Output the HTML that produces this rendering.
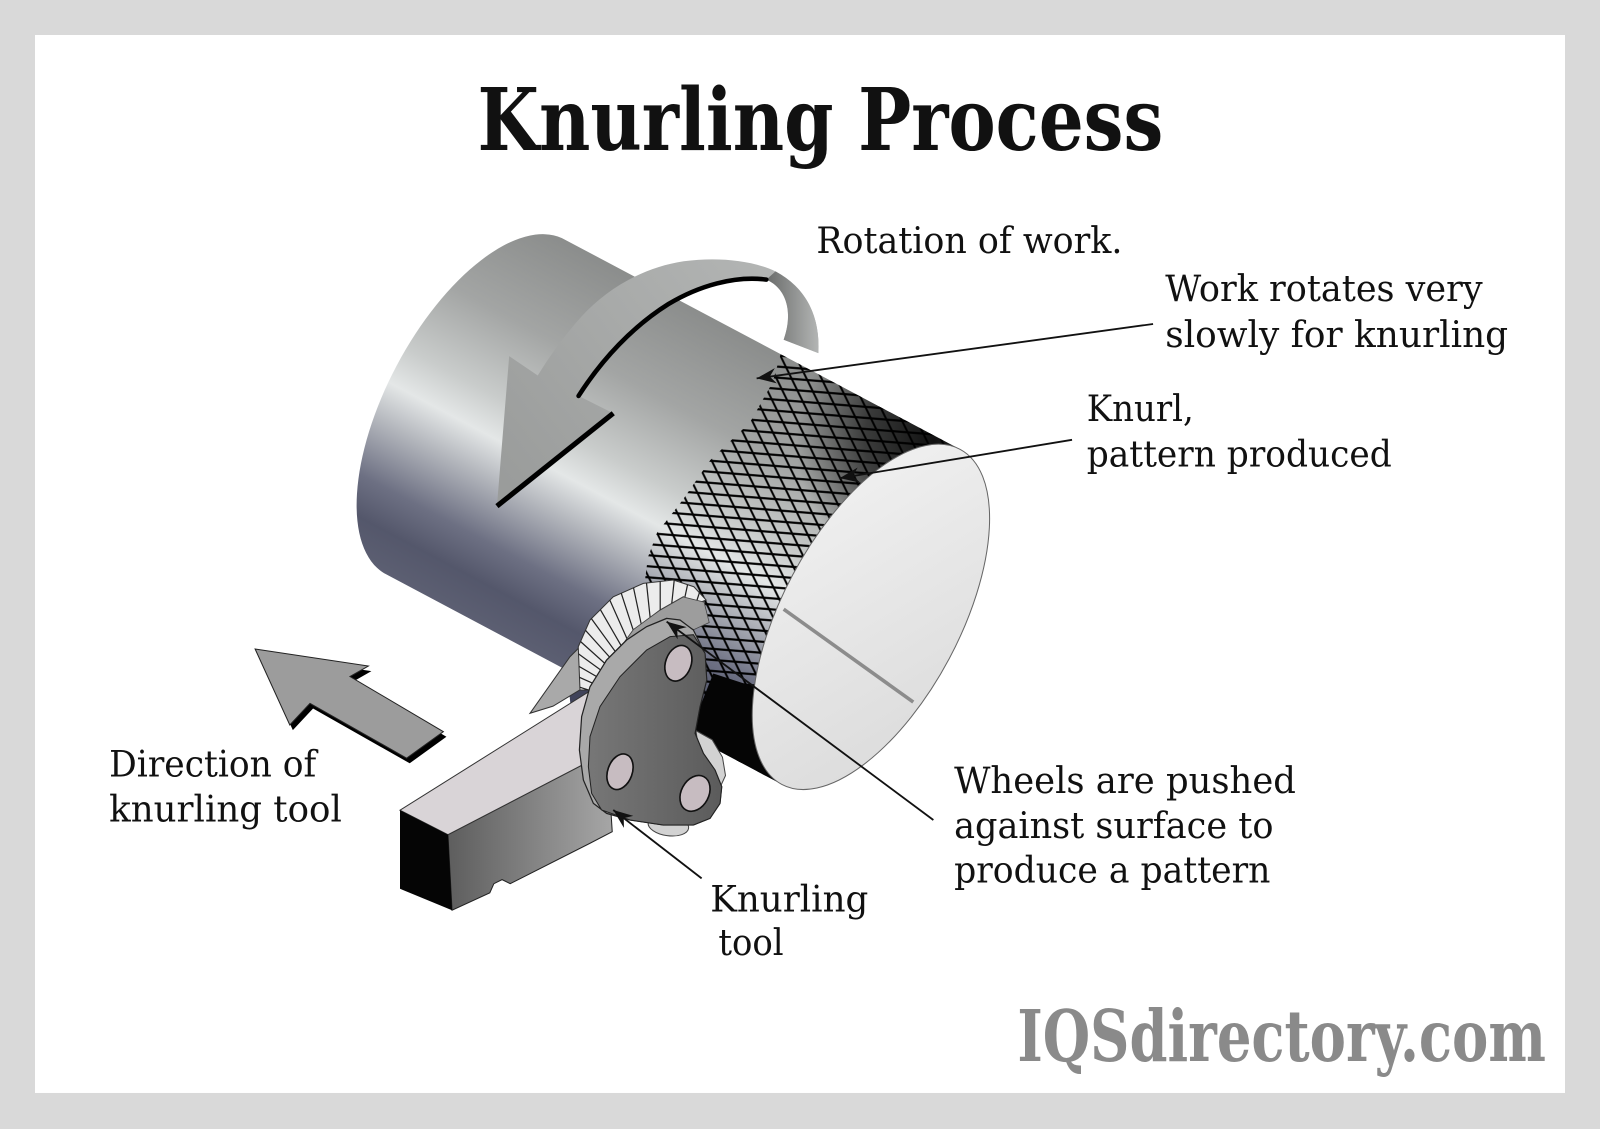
<!DOCTYPE html>
<html><head><meta charset="utf-8"><style>
html,body{margin:0;padding:0;width:1600px;height:1129px;overflow:hidden;background:#d9d9d9}
svg{display:block}
text{font-family:"DejaVu Serif","Liberation Serif",serif;fill:#111}
</style></head><body>
<svg width="1600" height="1129" viewBox="0 0 1568 1106.4" preserveAspectRatio="none" xmlns="http://www.w3.org/2000/svg">
<defs>
  <linearGradient id="bodyg" gradientUnits="userSpaceOnUse" x1="550.7" y1="233.3" x2="376.3" y2="561.7">
    <stop offset="0" stop-color="#8b8d8c"/>
    <stop offset="0.25" stop-color="#a3a5a4"/>
    <stop offset="0.45" stop-color="#c9cccb"/>
    <stop offset="0.55" stop-color="#e4e7e7"/>
    <stop offset="0.65" stop-color="#b4b7bd"/>
    <stop offset="0.8" stop-color="#6d7083"/>
    <stop offset="0.9" stop-color="#54576b"/>
    <stop offset="1" stop-color="#5c5f72"/>
  </linearGradient>
  <linearGradient id="faceg" gradientUnits="userSpaceOnUse" x1="780" y1="720" x2="930" y2="470">
    <stop offset="0" stop-color="#dcdcdc"/>
    <stop offset="1" stop-color="#f1f1f1"/>
  </linearGradient>
  <linearGradient id="ribg" gradientUnits="userSpaceOnUse" x1="500" y1="480" x2="780" y2="260">
    <stop offset="0" stop-color="#9a9c9b"/>
    <stop offset="1" stop-color="#b4b6b5"/>
  </linearGradient>
  <linearGradient id="tailg" gradientUnits="userSpaceOnUse" x1="755" y1="300" x2="802" y2="300">
    <stop offset="0" stop-color="#6f7170"/>
    <stop offset="1" stop-color="#b3b5b4"/>
  </linearGradient>
  <linearGradient id="sideg" gradientUnits="userSpaceOnUse" x1="440" y1="0" x2="600" y2="0">
    <stop offset="0" stop-color="#5e5e5e"/>
    <stop offset="1" stop-color="#a6a6a6"/>
  </linearGradient>
  <linearGradient id="plateg" gradientUnits="userSpaceOnUse" x1="575" y1="0" x2="705" y2="0">
    <stop offset="0" stop-color="#777777"/>
    <stop offset="1" stop-color="#5c5c5c"/>
  </linearGradient>
  <radialGradient id="kd" gradientUnits="userSpaceOnUse" cx="915" cy="432" r="135">
    <stop offset="0" stop-color="#000" stop-opacity="0.88"/>
    <stop offset="0.5" stop-color="#000" stop-opacity="0.6"/>
    <stop offset="1" stop-color="#000" stop-opacity="0"/>
  </radialGradient>
  <pattern id="h1" patternUnits="userSpaceOnUse" width="60" height="10.8" patternTransform="rotate(4.6)">
    <line x1="0" y1="5.4" x2="60" y2="5.4" stroke="#000" stroke-width="2"/>
  </pattern>
  <pattern id="h2" patternUnits="userSpaceOnUse" width="60" height="13.2" patternTransform="rotate(64)">
    <line x1="0" y1="6.6" x2="60" y2="6.6" stroke="#000" stroke-width="2"/>
  </pattern>
  <clipPath id="bodyclip">
    <path d="M550.7,233.3 L940.7,440.3 A186,87 -62 0 1 766.3,768.7 L376.3,561.7 A186,87 -62 0 1 550.7,233.3 Z"/>
  </clipPath>
  <clipPath id="knurlclip">
    <polygon points="770,330 757,375 735,414 696,451 669,490 644,522 635,546 628,600 622,650 680,730 760,780 1000,700 1000,400 900,360"/>
  </clipPath>
  <clipPath id="wheelclip">
    <polygon points="568.4,676.2 566.7,633.8 578.2,607.6 601,584.8 630.5,571.7 659.9,568.4 680,575 692,588 682,592 669.7,584.8 646.8,597.8 620.7,617.4 604.3,640.3 597.8,659.9 597.8,676.2"/>
  </clipPath>
  <marker id="ah" viewBox="-20 -10 22 20" refX="0" refY="0" markerWidth="22" markerHeight="20" markerUnits="userSpaceOnUse" orient="auto">
    <path d="M0,0 L-19,-7.5 L-13,0 L-19,7.5 Z" fill="#111"/>
  </marker>
</defs>

<!-- background -->
<rect x="0" y="0" width="1568" height="1106.4" fill="#d9d9d9"/>
<rect x="34.3" y="34.3" width="1499.4" height="1036.8" fill="#ffffff"/>

<!-- title -->
<text x="468" y="147" font-size="84" font-weight="bold" textLength="672" lengthAdjust="spacingAndGlyphs">Knurling Process</text>

<!-- direction arrow -->
<polygon points="253,641 364,657.7 346,668 437.5,722 401.5,748 306.8,694.3 287,715.5" fill="#000"/>
<polygon points="250,636 361,652.7 343,663 434.5,717 398.5,743 303.8,689.3 284,710.5" fill="#9c9c9c" stroke="#222" stroke-width="1"/>

<!-- cylinder body -->
<path d="M550.7,233.3 L940.7,440.3 A186,87 -62 0 1 766.3,768.7 L376.3,561.7 A186,87 -62 0 1 550.7,233.3 Z" fill="url(#bodyg)"/>

<!-- knurl -->
<g clip-path="url(#bodyclip)">
  <g clip-path="url(#knurlclip)">
    <rect x="600" y="320" width="420" height="480" fill="url(#kd)"/>
    <rect x="600" y="320" width="420" height="480" fill="url(#h1)"/>
    <rect x="600" y="320" width="420" height="480" fill="url(#h2)"/>
  </g>
  <polygon points="683,700 699,660 742,674 800,800 670,760" fill="#050505"/>
</g>

<!-- curved rotation arrow -->
<path d="M802,346 C804,310 790,282 760,266 C735,254 700,252 670,256 C630,262 595,283 570,310 C552,330 538,350 527,368 L499,349 L487,496 L601,405 L567,388 C590,352 620,320 655,298 C685,280 720,270 751,274 C770,282 778,305 768,333 Z" fill="url(#ribg)"/>
<path d="M760,266 C790,282 804,310 802,346 L768,333 C778,305 770,282 751,274 Z" fill="url(#tailg)"/>
<path d="M567,388 C590,352 620,320 655,298 C685,280 720,270 751,274" fill="none" stroke="#000" stroke-width="4.5" stroke-linecap="round"/>
<path d="M601,405 L487,496" fill="none" stroke="#000" stroke-width="5"/>

<!-- front end face -->
<ellipse cx="853.5" cy="604.5" rx="186" ry="87" transform="rotate(-62 853.5 604.5)" fill="url(#faceg)" stroke="#666" stroke-width="1"/>
<line x1="768" y1="597" x2="895" y2="688" stroke="#8c8c8c" stroke-width="3.5"/>

<!-- dark shadow under fork -->
<polygon points="556,660 575,650 595,680 590,700 560,700" fill="#40435a"/>

<!-- fork arm -->
<polygon points="519.4,699 558.6,643.6 568.4,633.8 568.4,676 542,692" fill="#a9a9a9" stroke="#333" stroke-width="1"/>

<!-- holder bar -->
<polygon points="439,818 443,892 480,875 484,866 492,862 500,866 578,826.5 600,815 595,737" fill="url(#sideg)" stroke="#222" stroke-width="1"/>
<polygon points="392,794 439,818 595,737 580,676" fill="#d9d4d7" stroke="#333" stroke-width="1"/>
<polygon points="392,794 439,818 443,892 392,871" fill="#050505"/>

<!-- knurling wheel -->
<polygon points="568.4,676.2 566.7,633.8 578.2,607.6 601,584.8 630.5,571.7 659.9,568.4 680,575 692,588 682,592 669.7,584.8 646.8,597.8 620.7,617.4 604.3,640.3 597.8,659.9 597.8,676.2" fill="#ececec" stroke="#333" stroke-width="1"/>
<g clip-path="url(#wheelclip)" stroke="#222" stroke-width="1.2">
  <line x1="647" y1="699" x2="497.8" y2="683.3"/>
  <line x1="647" y1="699" x2="500.3" y2="667.8"/>
  <line x1="647" y1="699" x2="504.3" y2="652.7"/>
  <line x1="647" y1="699" x2="510" y2="638"/>
  <line x1="647" y1="699" x2="517.1" y2="624"/>
  <line x1="647" y1="699" x2="525.7" y2="610.8"/>
  <line x1="647" y1="699" x2="535.5" y2="598.6"/>
  <line x1="647" y1="699" x2="546.6" y2="587.5"/>
  <line x1="647" y1="699" x2="558.8" y2="577.7"/>
  <line x1="647" y1="699" x2="572" y2="569.1"/>
  <line x1="647" y1="699" x2="586" y2="562"/>
  <line x1="647" y1="699" x2="600.7" y2="556.3"/>
  <line x1="647" y1="699" x2="615.8" y2="552.3"/>
  <line x1="647" y1="699" x2="631.3" y2="549.8"/>
  <line x1="647" y1="699" x2="647" y2="549"/>
  <line x1="647" y1="699" x2="662.7" y2="549.8"/>
  <line x1="647" y1="699" x2="678.2" y2="552.3"/>
  <line x1="647" y1="699" x2="693.4" y2="556.3"/>
</g>
<polygon points="597.8,676 597.8,660 604,640 620.7,617 646.8,598 669.7,585 690,590 695,610 680,617 653,606 634,614 614,627 594,647 580,673 575,690" fill="#9d9d9d" stroke="#444" stroke-width="0.8"/>

<!-- lower wheel pieces behind plate -->
<polygon points="682,716 698,725 708,742 711,760 705,773 690,770" fill="#d2d2d2" stroke="#444" stroke-width="1"/>
<ellipse cx="655" cy="809" rx="20" ry="10" transform="rotate(8 655 809)" fill="#d2d2d2" stroke="#444" stroke-width="1"/>

<!-- tool plate -->
<path d="M653.4,606 L633.7,614.1 L614.1,627.2 L594.5,646.8 L578.2,673 L570,702.3 L567.8,735 L571.7,764.4 L581.5,787.3 L594.5,797.1 L617.4,803.6 L650.1,808.5 L679.5,808.5 L695.8,802 L705.6,787.3 L707.3,771 L700.7,754.6 L689.3,738.3 L681.1,718.7 L686,692.5 L692.6,666.4 L690.9,640.3 L679.5,617.4 L666.4,607.6 Z" fill="#a9a9a9" stroke="#222" stroke-width="1.2"/>
<path d="M656.6,623.9 L633.7,637 L607.6,663.1 L588,692.5 L578.2,721.9 L576.6,751.4 L579.8,777.5 L589.6,793.8 L617.4,803.6 L650.1,808.5 L679.5,808.5 L695.8,802 L705.6,787.3 L707.3,771 L700.7,754.6 L689.3,738.3 L681.1,718.7 L686,692.5 L692.6,666.4 L690.9,640.3 L679.5,622 Z" fill="url(#plateg)" stroke="#222" stroke-width="1"/>
<ellipse cx="664.8" cy="650" rx="12.5" ry="18" transform="rotate(20 664.8 650)" fill="#c7bcc1" stroke="#111" stroke-width="1.6"/>
<ellipse cx="607.6" cy="756.3" rx="12" ry="18" transform="rotate(20 607.6 756.3)" fill="#c7bcc1" stroke="#111" stroke-width="1.6"/>
<ellipse cx="681.1" cy="777.5" rx="13.5" ry="18.5" transform="rotate(28 681.1 777.5)" fill="#c7bcc1" stroke="#111" stroke-width="1.6"/>

<!-- leader lines -->
<g stroke="#111" stroke-width="1.8" fill="none">
  <line x1="1130" y1="317.5" x2="741.5" y2="370.8" marker-end="url(#ah)"/>
  <line x1="1050.6" y1="431" x2="823" y2="468.6" marker-end="url(#ah)"/>
  <line x1="914.7" y1="803.6" x2="653.3" y2="609.2" marker-end="url(#ah)"/>
  <line x1="687.6" y1="860.8" x2="601" y2="793.8" marker-end="url(#ah)"/>
</g>

<!-- labels -->
<text x="800" y="248" font-size="36" textLength="300" lengthAdjust="spacingAndGlyphs">Rotation of work.</text>
<text x="1142" y="295" font-size="36" textLength="311" lengthAdjust="spacingAndGlyphs">Work rotates very</text>
<text x="1142" y="340" font-size="36" textLength="336" lengthAdjust="spacingAndGlyphs">slowly for knurling</text>
<text x="1065" y="412.6" font-size="36" textLength="105" lengthAdjust="spacingAndGlyphs">Knurl,</text>
<text x="1065" y="457.4" font-size="36" textLength="299" lengthAdjust="spacingAndGlyphs">pattern produced</text>
<text x="107" y="761" font-size="36" textLength="203" lengthAdjust="spacingAndGlyphs">Direction of</text>
<text x="107" y="805" font-size="36" textLength="228" lengthAdjust="spacingAndGlyphs">knurling tool</text>
<text x="935" y="777" font-size="36" textLength="335" lengthAdjust="spacingAndGlyphs">Wheels are pushed</text>
<text x="935" y="821" font-size="36" textLength="313" lengthAdjust="spacingAndGlyphs">against surface to</text>
<text x="935" y="865" font-size="36" textLength="310" lengthAdjust="spacingAndGlyphs">produce a pattern</text>
<text x="696" y="893.4" font-size="36" textLength="155" lengthAdjust="spacingAndGlyphs">Knurling</text>
<text x="704" y="936" font-size="36" textLength="64" lengthAdjust="spacingAndGlyphs">tool</text>

<!-- watermark -->
<text x="997" y="1040" font-size="70" font-weight="bold" style="fill:#8a8a8a" textLength="518" lengthAdjust="spacingAndGlyphs">IQSdirectory.com</text>
</svg>
</body></html>
